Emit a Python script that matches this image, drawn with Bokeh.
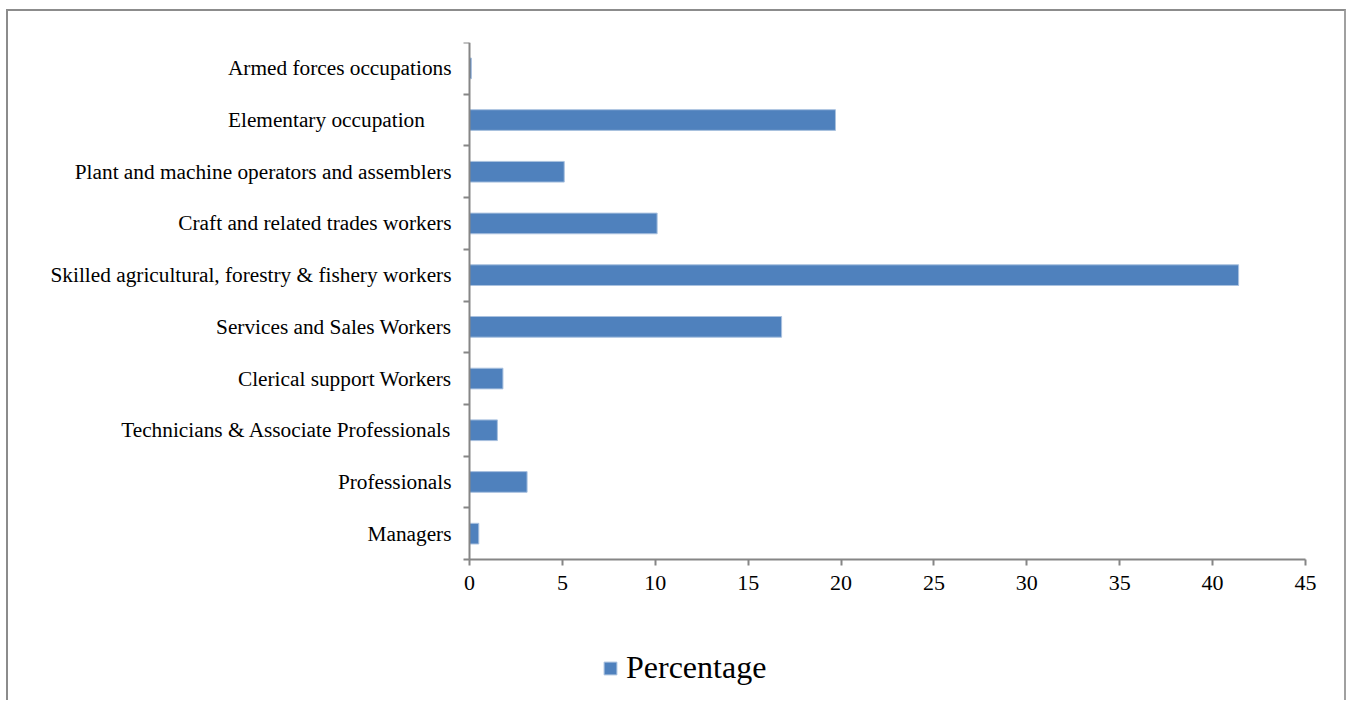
from bokeh.plotting import figure
from bokeh.models import Range1d, FixedTicker, Legend, LegendItem, ColumnDataSource
from bokeh.embed import file_html
from bokeh.resources import INLINE

categories = [
    "Managers",
    "Professionals",
    "Technicians & Associate Professionals",
    "Clerical support Workers",
    "Services and Sales Workers",
    "Skilled agricultural, forestry & fishery workers",
    "Craft and related trades workers",
    "Plant and machine operators and assemblers",
    "Elementary occupation\u00a0\u00a0\u00a0\u00a0\u00a0",
    "Armed forces occupations",
]
percentages = [0.5, 3.1, 1.5, 1.8, 16.8, 41.4, 10.1, 5.1, 19.7, 0.1]
x_ticks = [0, 5, 10, 15, 20, 25, 30, 35, 40, 45]
x_min, x_max = 0, 45
series_name = "Percentage"

n = len(categories)
centers = [i + 0.5 for i in range(n)]
bounds = [float(i) for i in range(n + 1)]

src = ColumnDataSource(dict(y=centers, x=percentages, cat=categories))

FONT = "Liberation Serif"
AXIS_COL = "#868686"

# Frame covers the whole canvas (page x 8..1348, y 42..702);
# axis area: x 0 -> page 469, x 45 -> page 1305; y 0 -> page 559, y 10 -> page 42
XS = (1305 - 469) / (x_max - x_min)
X_LEFT = x_min - (469 - 8) / XS
X_RIGHT = x_max + (1348 - 1305) / XS
YS = (559 - 42) / n
Y_BOTTOM = -(702 - 559) / YS

p = figure(width=1340, height=691, x_range=Range1d(X_LEFT, X_RIGHT), y_range=Range1d(Y_BOTTOM, n),
           output_backend="svg", toolbar_location=None,
           min_border_left=0, min_border_right=0, min_border_top=31, min_border_bottom=0)
p.styles = {"margin-left": "6px", "margin-top": "9px",
            "border-left": "2px solid #8c8c8c", "border-top": "2px solid #8c8c8c",
            "border-right": "2px solid #a0a0a0"}
p.outline_line_color = None
p.xgrid.visible = False
p.ygrid.visible = False
p.background_fill_color = "white"
p.border_fill_color = "white"

r = p.hbar(y="y", right="x", left=0, height=0.4, source=src,
           fill_color="#4F81BD", line_color="#A9C1DF", line_width=1)

xa = p.xaxis[0]
xa.fixed_location = 0
xa.bounds = (x_min, x_max)
xa.ticker = FixedTicker(ticks=x_ticks, minor_ticks=[])
xa.axis_line_color = AXIS_COL
xa.axis_line_width = 2
xa.major_tick_line_color = AXIS_COL
xa.major_tick_line_width = 2
xa.major_tick_out = 6
xa.major_tick_in = 0
xa.minor_tick_line_color = None
xa.major_label_standoff = 10
xa.major_label_text_font = FONT
xa.major_label_text_font_size = "22px"
xa.major_label_text_color = "black"

ya = p.yaxis[0]
ya.fixed_location = 0
ya.bounds = (0, n)
ya.ticker = FixedTicker(ticks=centers, minor_ticks=bounds)
ya.major_label_overrides = {c: lab for c, lab in zip(centers, categories)}
ya.axis_line_color = AXIS_COL
ya.axis_line_width = 2
ya.major_tick_line_color = None
ya.major_tick_out = 0
ya.major_tick_in = 0
ya.minor_tick_line_color = AXIS_COL
ya.minor_tick_line_width = 2
ya.minor_tick_out = 6
ya.minor_tick_in = 0
ya.major_label_standoff = 12
ya.major_label_text_font = FONT
ya.major_label_text_font_size = "21.3px"
ya.major_label_text_color = "black"

legend = Legend(items=[LegendItem(label=series_name, renderers=[r])],
                location=(594, 16), orientation="horizontal",
                padding=0, margin=0, spacing=0, label_standoff=8,
                glyph_width=16, glyph_height=16,
                label_text_font=FONT, label_text_font_size="32px",
                label_text_color="black",
                border_line_color=None, background_fill_alpha=0)
p.add_layout(legend, "center")

open("out.html", "w").write(file_html(p, INLINE))
